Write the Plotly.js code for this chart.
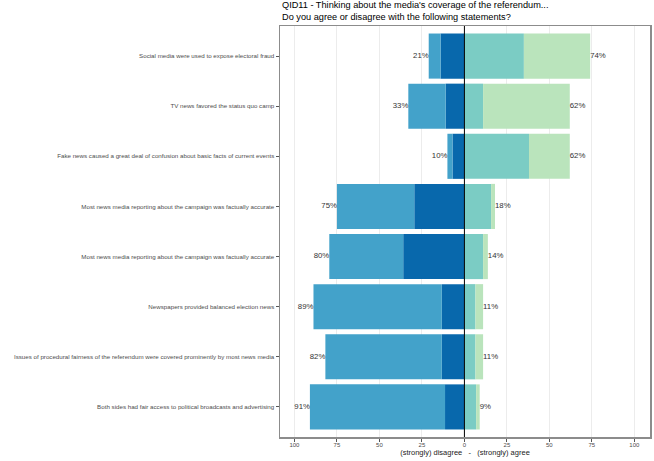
<!DOCTYPE html>
<html>
<head>
<meta charset="utf-8">
<script src="https://cdn.plot.ly/plotly-3.0.1.min.js"></script>
<style>html,body{margin:0;padding:0;background:#fff;}#chart{width:654px;height:461px;}</style>
</head>
<body>
<div id="chart"></div>
<script>
const categories = [
  "Social media were used to expose electoral fraud",
  "TV news favored the status quo camp",
  "Fake news caused a great deal of confusion about basic facts of current events",
  "Most news media reporting about the campaign was factually accurate",
  "Most news media reporting about the campaign was factually accurate",
  "Newspapers provided balanced election news",
  "Issues of procedural fairness of the referendum were covered prominently by most news media",
  "Both sides had fair access to political broadcasts and advertising"
];
const innerDisagree = [14, 11, 7, 29.5, 36, 13.3, 13.3, 11.4];
const outerDisagree = [7, 22, 3, 45.5, 43.5, 75.5, 68.5, 79.5];
const innerAgree    = [35, 11, 38, 15.7, 11, 6.5, 6.5, 6.9];
const outerAgree    = [39, 51, 24, 2.3, 2.8, 4.5, 4.5, 2.1];
const xTickVals = [-100, -75, -50, -25, 0, 25, 50, 75, 100];
const xTickText = ["100", "75", "50", "25", "0", "25", "50", "75", "100"];
const titleText = "QID11 - Thinking about the media's coverage of the referendum...<br>Do you agree or disagree with the following statements?";

const pos = categories.map((c, i) => i);
const disTotal = innerDisagree.map((v, i) => v + outerDisagree[i]);
const agrTotal = innerAgree.map((v, i) => v + outerAgree[i]);

const barBase = {type: 'bar', orientation: 'h', y: pos, hoverinfo: 'skip'};
const traces = [
  Object.assign({}, barBase, {x: innerDisagree.map(v => -v), marker: {color: '#0868ac', line: {width: 0}}, name: 'Strongly disagree'}),
  Object.assign({}, barBase, {x: outerDisagree.map(v => -v), marker: {color: '#43a2ca', line: {width: 0}}, name: 'Disagree'}),
  Object.assign({}, barBase, {x: innerAgree, marker: {color: '#7bccc4', line: {width: 0}}, name: 'Agree'}),
  Object.assign({}, barBase, {x: outerAgree, marker: {color: '#bae4bc', line: {width: 0}}, name: 'Strongly agree'}),
  {type: 'scatter', mode: 'text', x: disTotal.map(v => -v), y: pos,
   text: disTotal.map(v => Math.round(v) + '%'), textposition: 'middle left',
   textfont: {size: 7.8, color: '#333333', family: 'Liberation Sans, Arial, sans-serif'},
   cliponaxis: false, hoverinfo: 'skip'},
  {type: 'scatter', mode: 'text', x: agrTotal, y: pos,
   text: agrTotal.map(v => Math.round(v) + '%'), textposition: 'middle right',
   textfont: {size: 7.8, color: '#333333', family: 'Liberation Sans, Arial, sans-serif'},
   cliponaxis: false, hoverinfo: 'skip'}
];

const layout = {
  width: 654, height: 461,
  margin: {l: 280, r: 4, t: 26, b: 24, pad: 0},
  paper_bgcolor: '#ffffff', plot_bgcolor: '#ffffff',
  font: {family: 'Liberation Sans, Arial, sans-serif', color: '#4d4d4d'},
  showlegend: false,
  barmode: 'relative',
  bargap: 0.1,
  annotations: [{
    text: titleText, showarrow: false,
    xref: 'paper', x: 0, xanchor: 'left',
    yref: 'paper', y: 1, yanchor: 'bottom', yshift: 2,
    align: 'left',
    font: {size: 9.2, color: '#000000', family: 'Liberation Sans, Arial, sans-serif'}
  }],
  xaxis: {
    range: [-108.5, 109.2],
    tickvals: xTickVals, ticktext: xTickText,
    tickfont: {size: 6, color: '#4d4d4d'},
    ticks: 'outside', ticklen: 3, tickcolor: '#555555', tickwidth: 1,
    ticklabelstandoff: -2,
    showgrid: true, gridcolor: '#ececec', gridwidth: 1,
    zeroline: false,
    showline: true, linecolor: '#8c8c8c', linewidth: 1.5, mirror: true,
    title: {text: '(strongly) disagree   -   (strongly) agree', font: {size: 7.5, color: '#222222'}, standoff: 1},
    fixedrange: true
  },
  yaxis: {
    range: [7.6, -0.6],
    tickvals: pos, ticktext: categories,
    tickfont: {size: 6.2, color: '#4d4d4d'},
    ticks: 'outside', ticklen: 3, tickcolor: '#555555', tickwidth: 1,
    showgrid: false, zeroline: false,
    showline: true, linecolor: '#8c8c8c', linewidth: 1.5, mirror: true,
    fixedrange: true
  },
  shapes: [{type: 'line', xref: 'x', yref: 'paper', x0: 0, x1: 0, y0: 0, y1: 1,
            line: {color: '#000000', width: 1}, layer: 'above'}]
};

Plotly.newPlot('chart', traces, layout, {displayModeBar: false, staticPlot: true});
</script>
</body>
</html>
